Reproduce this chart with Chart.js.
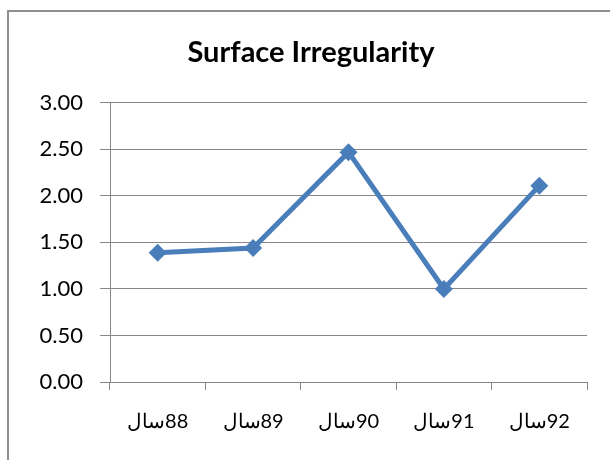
<!DOCTYPE html>
<html>
<head>
<meta charset="utf-8">
<script src="https://cdn.jsdelivr.net/npm/chart.js@4"></script>
<style>
    html, body { margin: 0; padding: 0; background: #fff; overflow: hidden; }
    #wrap { position: relative; width: 610px; height: 460px; }
    #frame {
        position: absolute; left: 7px; top: 10px; width: 700px; height: 600px;
        border-left: 2px solid #8f8f8f; border-top: 2px solid #8f8f8f;
    }
    #chart { position: absolute; left: 0; top: 0; direction: rtl; }
</style>
</head>
<body>
<div id="wrap">
    <div id="frame"></div>
    <canvas id="chart" width="610" height="460"></canvas>
</div>
<script>
// dados do grafico
var categories = ["88سال", "89سال", "90سال", "91سال", "92سال"];
var values = [1.39, 1.44, 2.47, 1.00, 2.11];
var yTicks = [0, 0.5, 1, 1.5, 2, 2.5, 3];

var lineColor = "#4a7ebb";
var gridColor = "#878787";
var fontFamily = "Lato, 'Open Sans', sans-serif";

window.onload = function () {
    var ctx = document.getElementById("chart").getContext("2d");
    window.myLine = new Chart(ctx, {
        type: "line",
        data: {
            labels: categories,
            datasets: [{
                label: "Surface Irregularity",
                data: values,
                borderColor: lineColor,
                backgroundColor: lineColor,
                borderWidth: 5,
                pointStyle: "rectRot",
                pointRadius: 9,
                pointBorderWidth: 0,
                tension: 0,
                fill: false
            }]
        },
        options: {
            responsive: false,
            animation: false,
            layout: {
                padding: { left: 35, right: 23, top: 0, bottom: 0 }
            },
            plugins: {
                legend: { display: false },
                tooltip: { enabled: false },
                title: {
                    display: true,
                    text: "Surface Irregularity",
                    color: "#000",
                    font: { family: fontFamily, size: 29, weight: "bold" },
                    padding: { top: 35, bottom: 33 }
                }
            },
            scales: {
                x: {
                    offset: true,
                    grid: {
                        offset: true,
                        drawOnChartArea: false,
                        drawTicks: true,
                        tickLength: 8,
                        color: gridColor
                    },
                    border: { color: gridColor, width: 1 },
                    ticks: {
                        color: "#000",
                        padding: 20,
                        maxRotation: 0,
                        font: { family: fontFamily, size: 20 }
                    },
                    afterFit: function (scale) { scale.height = 78; }
                },
                y: {
                    min: 0,
                    max: 3,
                    afterBuildTicks: function (scale) {
                        scale.ticks = yTicks.map(function (v) { return { value: v }; });
                    },
                    grid: {
                        color: gridColor,
                        tickLength: 10
                    },
                    border: { color: gridColor, width: 1 },
                    ticks: {
                        color: "#000",
                        padding: 17,
                        font: { family: fontFamily, size: 22 },
                        callback: function (v) { return Number(v).toFixed(2); }
                    },
                    afterFit: function (scale) { scale.width = 75; }
                }
            }
        }
    });
};
</script>
</body>
</html>
